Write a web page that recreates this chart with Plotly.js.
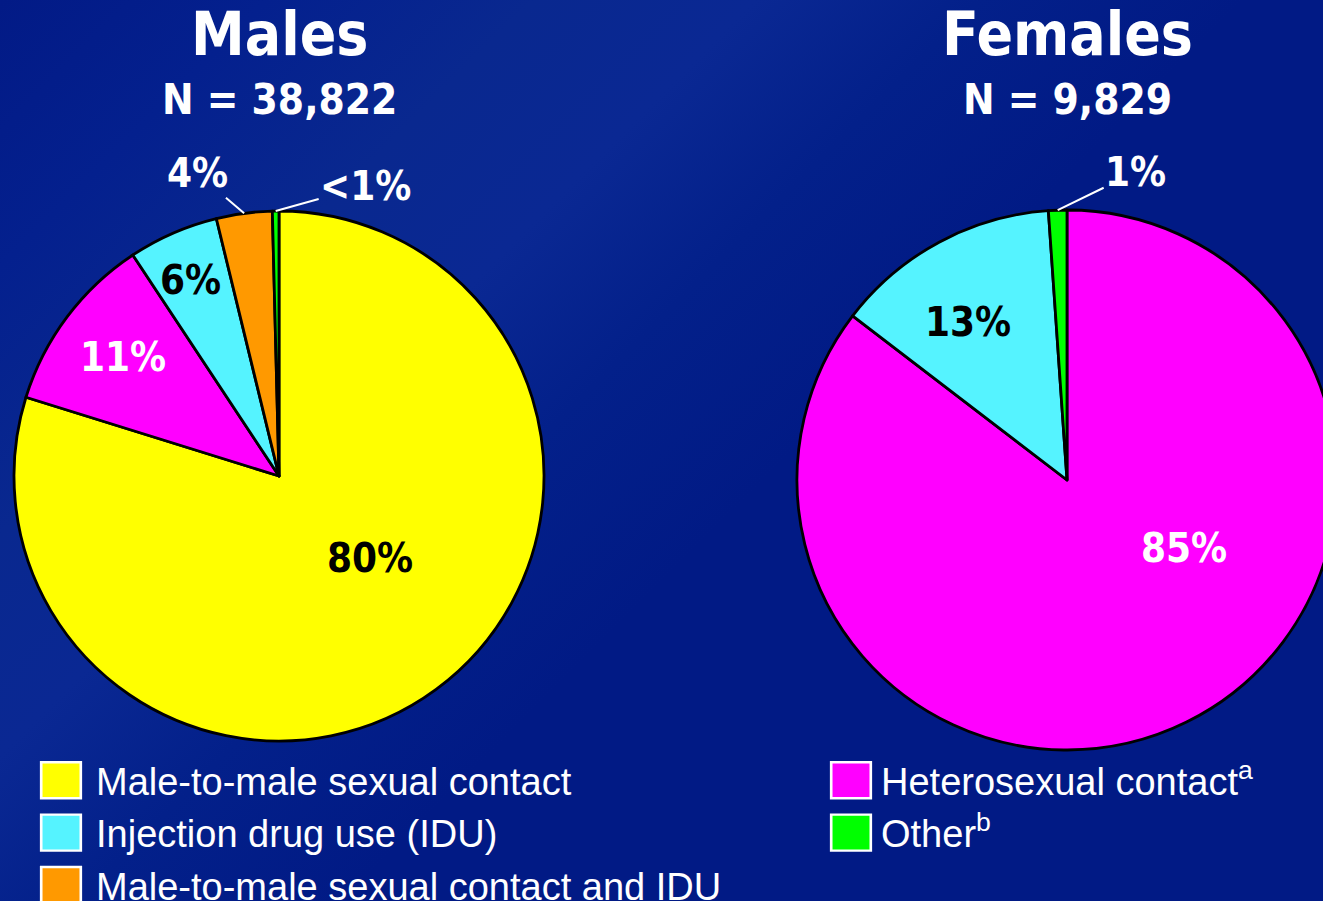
<!DOCTYPE html>
<html>
<head>
<meta charset="utf-8">
<script src="https://cdn.plot.ly/plotly-3.0.1.min.js"></script>
<style>
  html, body { margin: 0; padding: 0; overflow: hidden; width: 1323px; height: 901px; }
  body {
    background: linear-gradient(135deg, #021a86 0%, #04208e 12%, #09288f 24%, #0a2893 34%, #03208a 44%, #011a85 56%, #011a85 100%);
  }
  #chart { width: 1400px; height: 901px; }
</style>
</head>
<body>
<div id="chart"></div>
<script>
// ---- Data ----
const maleLabels = ['Male-to-male sexual contact', 'Heterosexual contact', 'Injection drug use (IDU)', 'Male-to-male sexual contact and IDU', 'Other'];
const maleValues = [79.8, 10.9, 5.5, 3.4, 0.4];
const maleText = ['80%', '11%', '6%', '4%', '<1%'];

const femaleLabels = ['Heterosexual contact', 'Injection drug use (IDU)', 'Other'];
const femaleValues = [85.4, 13.5, 1.1];
const femaleText = ['85%', '13%', '1%'];

const legendLeftLabels = ['Male-to-male sexual contact', 'Injection drug use (IDU)', 'Male-to-male sexual contact and IDU'];
const legendRightLabels = ['Heterosexual contact', 'Other'];
const legendRightNames = ['Heterosexual contact<sup>a</sup>', 'Other<sup>b</sup>'];

const titles = ['Males', 'Females'];
const subtitles = ['N = 38,822', 'N = 9,829'];

// ---- Styles / layout ----
const colorMap = {
  'Male-to-male sexual contact': '#ffff00',
  'Heterosexual contact': '#ff00ff',
  'Injection drug use (IDU)': '#55f3ff',
  'Male-to-male sexual contact and IDU': '#ff9900',
  'Other': '#00ff00'
};
const textColorMap = {
  'Male-to-male sexual contact': '#000000',
  'Heterosexual contact': '#ffffff',
  'Injection drug use (IDU)': '#000000',
  'Male-to-male sexual contact and IDU': '#ffffff',
  'Other': '#ffffff'
};
const boldFont = 'DejaVu Sans Condensed, Liberation Sans Narrow, Arial Narrow, sans-serif';
const W = 1400, H = 901;
const OUTSIDE_THRESHOLD = 5;
const maleDomain = { x: [14 / W, 544 / W], y: [1 - 741 / H, 1 - 211 / H] };
const femaleDomain = { x: [797 / W, 1337 / W], y: [1 - 750 / H, 1 - 210 / H] };
// inside label placement: [angle shift from slice mid-angle (deg), fraction of radius]
const maleInsidePlacement = [[-11.6, 0.46], [0.6, 0.74], [-0.8, 0.81]];
const femaleInsidePlacement = [[-33.7, 0.50], [-3.8, 0.69]];
// outside labels: pixel offsets of the text from the slice edge
const maleOutsideOffsets = [null, null, null, [-47, -40], [90, -25]];
const femaleOutsideOffsets = [null, null, [78, -38]];

function pieTrace(labels, values, domain) {
  return {
    type: 'pie',
    labels: labels,
    values: values,
    textinfo: 'none',
    sort: false,
    direction: 'clockwise',
    rotation: 0,
    marker: { colors: labels.map(l => colorMap[l]), line: { color: '#000000', width: 2.8 } },
    domain: domain,
    showlegend: false,
    hoverinfo: 'none'
  };
}

const traces = [
  pieTrace(maleLabels, maleValues, maleDomain),
  pieTrace(femaleLabels, femaleValues, femaleDomain)
];

function legendTrace(label, name, legendId) {
  return {
    type: 'scatter', mode: 'markers', x: [null], y: [null],
    name: name, legend: legendId, showlegend: true, hoverinfo: 'none',
    marker: { symbol: 'square', size: 12, color: colorMap[label], line: { color: '#ffffff', width: 0.8 } }
  };
}
legendLeftLabels.forEach(l => traces.push(legendTrace(l, l, 'legend')));
legendRightLabels.forEach((l, i) => traces.push(legendTrace(l, legendRightNames[i], 'legend2')));

// slice percentage labels, placed from slice geometry computed from the values
function sliceLabels(labels, values, text, domain, insidePlacement, outsideOffsets) {
  const x0 = domain.x[0] * W, x1 = domain.x[1] * W;
  const y0 = (1 - domain.y[1]) * H, y1 = (1 - domain.y[0]) * H;
  const cx = (x0 + x1) / 2, cy = (y0 + y1) / 2, r = Math.min(x1 - x0, y1 - y0) / 2;
  const total = values.reduce((a, b) => a + b, 0);
  const out = [];
  let cum = 0;
  values.forEach((v, i) => {
    const mid = (cum + v / 2) / total * 2 * Math.PI;
    cum += v;
    const font = { family: boldFont, size: 40, weight: 'bold', color: textColorMap[labels[i]] };
    if (v >= OUTSIDE_THRESHOLD) {
      const p = insidePlacement[i];
      const a = mid + p[0] * Math.PI / 180;
      const px = cx + p[1] * r * Math.sin(a), py = cy - p[1] * r * Math.cos(a);
      out.push({ text: text[i], x: px / W, y: 1 - py / H, xref: 'paper', yref: 'paper',
        showarrow: false, xanchor: 'center', yanchor: 'middle', font: font });
    } else {
      const px = cx + r * Math.sin(mid), py = cy - r * Math.cos(mid);
      const off = outsideOffsets[i];
      font.color = '#ffffff';
      out.push({ text: text[i], x: px / W, y: 1 - py / H, xref: 'paper', yref: 'paper',
        showarrow: true, arrowhead: 0, arrowwidth: 2, arrowcolor: '#ffffff', standoff: 0,
        ax: off[0], ay: off[1], font: font });
    }
  });
  return out;
}

const annotations = [];
const centers = [279 / W, 1067 / W];
titles.forEach((t, i) => {
  annotations.push({ text: t, x: centers[i], y: 1 - 34 / H, xref: 'paper', yref: 'paper', showarrow: false,
    xanchor: 'center', yanchor: 'middle', font: { family: boldFont, size: 60, weight: 'bold', color: '#ffffff' } });
  annotations.push({ text: subtitles[i], x: centers[i], y: 1 - 100 / H, xref: 'paper', yref: 'paper', showarrow: false,
    xanchor: 'center', yanchor: 'middle', font: { family: boldFont, size: 42, weight: 'bold', color: '#ffffff' } });
});
annotations.push(...sliceLabels(maleLabels, maleValues, maleText, maleDomain, maleInsidePlacement, maleOutsideOffsets));
annotations.push(...sliceLabels(femaleLabels, femaleValues, femaleText, femaleDomain, femaleInsidePlacement, femaleOutsideOffsets));

const legendCommon = {
  bgcolor: 'rgba(0,0,0,0)', borderwidth: 0, orientation: 'v',
  xanchor: 'left', yanchor: 'top', itemclick: false, itemdoubleclick: false,
  font: { family: 'Liberation Sans, Arial, sans-serif', size: 38, color: '#ffffff' }
};

const layout = {
  width: W, height: H,
  margin: { l: 0, r: 0, t: 0, b: 0, autoexpand: false },
  paper_bgcolor: 'rgba(0,0,0,0)',
  plot_bgcolor: 'rgba(0,0,0,0)',
  xaxis: { visible: false }, yaxis: { visible: false },
  annotations: annotations,
  legend: Object.assign({}, legendCommon, { x: 26 / W, y: 1 - 749 / H, itemwidth: 60 }),
  legend2: Object.assign({}, legendCommon, { x: 821 / W, y: 1 - 749 / H, itemwidth: 50 })
};

Plotly.newPlot('chart', traces, layout, { staticPlot: true, displayModeBar: false }).then(() => {
  document.querySelectorAll('.legendpoints path.scatterpts').forEach(p => {
    const t = p.getAttribute('transform') || '';
    p.setAttribute('transform', t + ' scale(3.3,3)');
  });
});
</script>
</body>
</html>
